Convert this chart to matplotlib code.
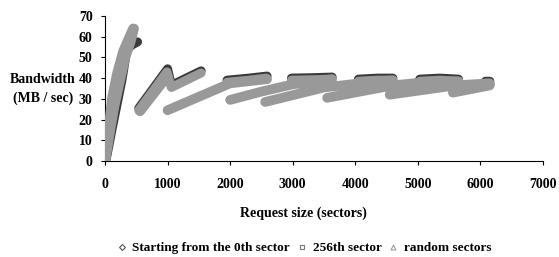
import numpy as np
import matplotlib
matplotlib.use("Agg")
import matplotlib.pyplot as plt
from matplotlib.lines import Line2D

plt.rcParams['font.family'] = ['Liberation Serif', 'DejaVu Serif']
plt.rcParams['font.weight'] = 'bold'

# Series (request size in sectors, bandwidth in MB/sec); NaN separates runs
sector0_x = [20, 110, 190, 270, 350, 430, 520, np.nan,
             540, 1000, 1060, 1536, np.nan,
             1950, 2300, 2590, np.nan,
             2980, 3300, 3630, np.nan,
             4050, 4350, 4600, np.nan,
             5030, 5350, 5650, np.nan,
             6080, 6150]
sector0_y = [1, 15, 27, 39, 54, 56, 57.5, np.nan,
             25.5, 44.5, 36.5, 43.5, np.nan,
             39, 40, 41, np.nan,
             40, 40.2, 40.5, np.nan,
             39.5, 40, 40, np.nan,
             39.5, 40, 39.5, np.nan,
             38.5, 38.5]

sector256_x = [10, 90, 160, 240, 330, 410, 470, np.nan,
               540, 990, 1060, 1536, np.nan,
               1950, 2300, 2580, np.nan,
               2980, 3300, 3620, np.nan,
               4050, 4350, 4590, np.nan,
               5030, 5350, 5640, np.nan,
               6080, 6140]
sector256_y = [0, 15, 27, 38, 50, 57, 64, np.nan,
               24.5, 43, 35.5, 42.5, np.nan,
               38, 39, 40, np.nan,
               39, 39.2, 39.5, np.nan,
               38.5, 39, 39, np.nan,
               38.5, 39, 38.5, np.nan,
               37.5, 37.5]

random_x = [0, 60, 110, 190, 290, 420, 450, np.nan,
            560, 1000, np.nan,
            1000, 1500, 2000, 2590, np.nan,
            2000, 2500, 3000, 3630, np.nan,
            2560, 3500, 4075, 4600, np.nan,
            3550, 4600, 5100, 5650, np.nan,
            4550, 5600, 6150, np.nan,
            5560, 6150]
random_y = [0, 16, 30, 42, 53, 62, 64, np.nan,
            24, 41, np.nan,
            24.5, 31, 37.5, 39.5, np.nan,
            29.5, 33.5, 37, 39.5, np.nan,
            28.5, 35.5, 37.5, 39, np.nan,
            30.5, 36.5, 38, 38.5, np.nan,
            32, 36.5, 37.5, np.nan,
            33, 36.5]

x_ticks = [0, 1000, 2000, 3000, 4000, 5000, 6000, 7000]
y_ticks = [0, 10, 20, 30, 40, 50, 60, 70]
legend_labels = ['Starting from the 0th sector', '256th sector', 'random sectors']

fig = plt.figure(figsize=(5.59, 2.57), dpi=100)
ax = fig.add_axes([105/559, 1-161/257, 438/559, 145/257])

dark = '#3a3a3a'
light = '#999999'
kw = dict(solid_capstyle='round', solid_joinstyle='round')
ax.plot(sector0_x, sector0_y, color=dark, lw=6.5, zorder=2, **kw)
ax.plot(random_x, random_y, color=light, lw=7, zorder=3, **kw)
ax.plot(sector256_x, sector256_y, color=light, lw=6.5, zorder=4, **kw)

ax.set_xlim(0, 7000)
ax.set_ylim(0, 70)
ax.set_xticks(x_ticks)
ax.set_yticks(y_ticks)
ax.set_xticklabels([str(v) for v in x_ticks], fontsize=10, fontweight='bold')
ax.set_yticklabels([str(v) for v in y_ticks], fontsize=10, fontweight='bold')
ax.tick_params(axis='x', direction='out', length=3, width=0.8, pad=9)
ax.tick_params(axis='y', direction='out', length=3, width=0.8, pad=6)
for s in ['top', 'right']:
    ax.spines[s].set_visible(False)
for s in ['left', 'bottom']:
    ax.spines[s].set_linewidth(0.8)
    ax.spines[s].set_color('black')

fig.text(43/559, 1-89/257, 'Bandwidth\n(MB / sec)', ha='center', va='center',
         fontsize=10, fontweight='bold', linespacing=1.45)
fig.text(303/559, 1-213/257, 'Request size (sectors)', ha='center', va='center',
         fontsize=10, fontweight='bold')

handles = [Line2D([], [], ls='none', marker='D', ms=3, mfc='white', mec='#555555', mew=0.8),
           Line2D([], [], ls='none', marker='s', ms=3.5, mfc='white', mec='#777777', mew=0.8),
           Line2D([], [], ls='none', marker='^', ms=3.5, mfc='white', mec='#999999', mew=0.8)]
fig.legend(handles, legend_labels, loc='center', bbox_to_anchor=(304/559, 1-248/257),
           ncol=3, frameon=False, handlelength=0.8, handletextpad=0.4,
           columnspacing=0.5, prop={'weight': 'bold', 'size': 9.5})

fig.savefig('out.png', dpi=100)
